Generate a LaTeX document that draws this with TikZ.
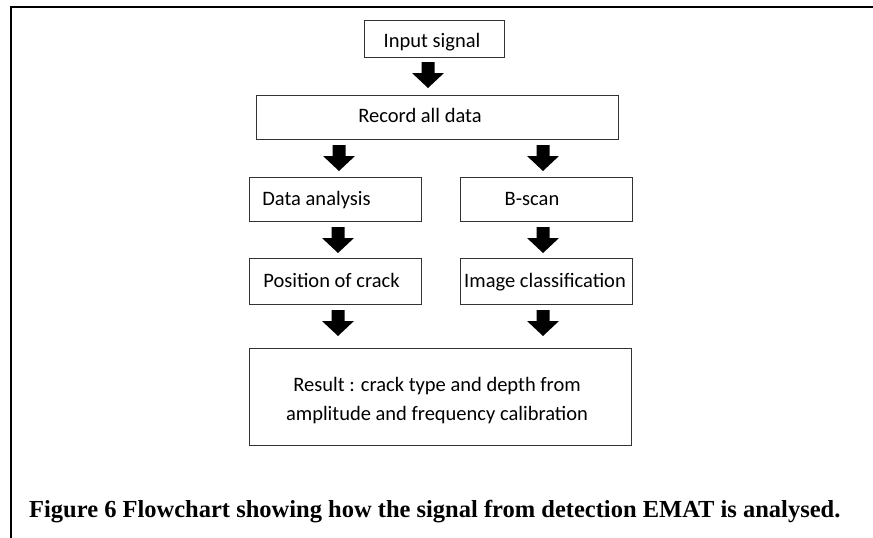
\documentclass[tikz,border=0pt]{standalone}
\usepackage{fontspec}
\setmainfont{Carlito}
\newfontfamily\capfont{Liberation Serif}
\tikzset{
  box/.style={draw=black!80, line width=1pt, minimum height=#1, inner sep=0pt, text depth=0pt, text height=13pt, font=\fontsize{20.5}{29}\selectfont},
  txt/.style={inner sep=0pt, anchor=base, font=\fontsize{20.5}{29}\selectfont},
  framel/.style={line width=2pt, black},
  barrow/.style={fill=black, draw=none}
}
\newcommand{\blockarr}[2]{% top-center x, top y
  \fill[barrow] (#1-6.5,#2) -- (#1+6.5,#2) -- (#1+6.5,#2+11) -- (#1+16,#2+11) -- (#1,#2+26) -- (#1-16,#2+11) -- (#1-6.5,#2+11) -- cycle;}
\begin{document}
\begin{tikzpicture}[x=1pt,y=-1pt]
\useasboundingbox (0,0) rectangle (873,538);
% outer frame (open on right and bottom)
\coordinate (fr) at (873,7);
\coordinate (fc) at (11,7);
\coordinate (fb) at (11,538);
\draw[framel] (fr) -- (fc) -- (fb);
% boxes
\node[box=37pt, minimum width=140pt, text height=18pt] (inp) at (434,38.5) {\hspace*{-4pt}Input signal};
\node[box=44pt, minimum width=362pt, text height=10pt] (rec) at (437,117) {\hspace*{-34pt}Record all data};
\node[box=44pt, minimum width=172pt] (da) at (335,199) {\hspace*{-37pt}Data analysis};
\node[box=44pt, minimum width=172pt] (bs) at (546,199) {\hspace*{-28pt}B-scan};
\node[box=46pt, minimum width=172pt] (pc) at (335,281) {\hspace*{-7pt}Position of crack};
\node[box=46pt, minimum width=172pt] (ic) at (546,281) {\hspace*{-2pt}Image classification};
\node[box=97pt, minimum width=382pt] (res) at (440,396.5) {};
\node[txt] (res1) at (437,391) {Result : crack type and depth from};
\node[txt] (res2) at (437,420) {amplitude and frequency calibration};
% block arrows
\blockarr{428}{62}
\blockarr{339}{145}
\blockarr{543}{145}
\blockarr{338}{227}
\blockarr{543}{227}
\blockarr{338}{310}
\blockarr{543}{310}
% caption
\node[anchor=base west, inner sep=0pt, font=\capfont\bfseries\fontsize{24.5}{28}\selectfont] (cap) at (29,517) {Figure 6 Flowchart showing how the signal from detection EMAT is analysed.};
\end{tikzpicture}
\end{document}
